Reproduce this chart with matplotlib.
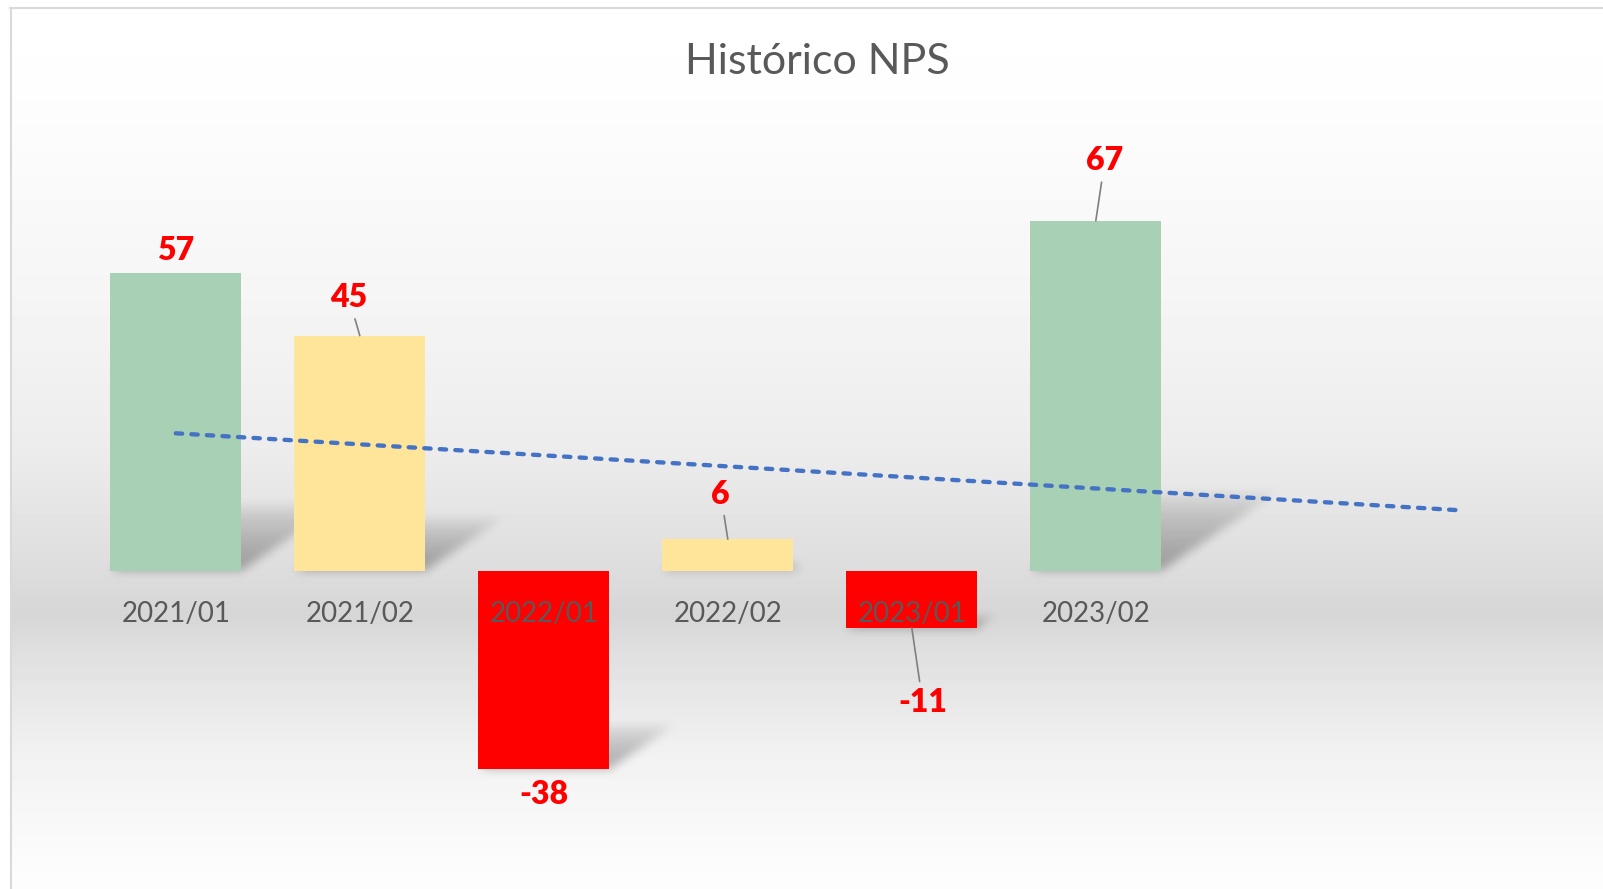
import numpy as np
import matplotlib
matplotlib.use("Agg")
import matplotlib.pyplot as plt
from matplotlib.lines import Line2D

# ── Data ──────────────────────────────────────────────────────────────────────
periods = ["2021/01", "2021/02", "2022/01", "2022/02", "2023/01", "2023/02"]
nps = [57, 45, -38, 6, -11, 67]
bar_colors = ["#A8D0B5", "#FFE599", "#FF0000", "#FFE599", "#FF0000", "#A8D0B5"]

# label offsets in pixels relative to the bar end
label_offsets = [(0, 22), (-11, 38), (0, -26), (-7, 45), (11, -75), (9, 60)]
has_leader = [False, True, False, True, True, True]

TITLE = "Histórico NPS"
TEXT = "#595959"
FORECAST = 2

W, H, DPI = 1603, 889, 100
X0, X1 = -0.5, 7.5
Y0, Y1 = -60, 80

# ── Figure & background ──────────────────────────────────────────────────────
fig = plt.figure(figsize=(W / DPI, H / DPI), dpi=DPI, facecolor="white")

bg = fig.add_axes([11 / W, 0, 1 - 11 / W, (H - 9) / H])
rows = np.arange(9, H)
stops_y = [9, 100, 300, 450, 555, 615, 655, 757, 857, 889]
stops_v = [255, 253, 245, 236, 223, 214, 224, 242, 251, 253]
shade = np.interp(rows, stops_y, stops_v) / 255
bg.imshow(np.repeat(shade[:, None], 16, axis=1), cmap="gray", vmin=0, vmax=1,
          aspect="auto", extent=(0, 1, 0, 1), interpolation="nearest")
bg.axis("off")

fig.add_artist(Line2D([10 / W, 1], [1 - 8 / H, 1 - 8 / H], color="#D9D9D9", lw=1.5))
fig.add_artist(Line2D([10.5 / W, 10.5 / W], [0, 1 - 8 / H], color="#D9D9D9", lw=1.5))

fig.text(817 / W, 1 - 62 / H, TITLE, ha="center", va="center", fontsize=31,
         color=TEXT, family="Lato")

# ── Plot area ─────────────────────────────────────────────────────────────────
left_px, right_px = 83.8, 1555.8
top_px, bot_px = 152.9, 883.7
ax = fig.add_axes([left_px / W, (H - bot_px) / H, (right_px - left_px) / W,
                   (bot_px - top_px) / H])
ax.set_xlim(X0, X1)
ax.set_ylim(Y0, Y1)
ax.axis("off")
ax.patch.set_alpha(0)

x = np.arange(len(nps))
width = 0.71

# perspective shadows (skewed, faded, blurred)
nx, ny = int(right_px - left_px), int(bot_px - top_px)
xs = X0 + (np.arange(nx) + 0.5) / nx * (X1 - X0)
ys = Y0 + (np.arange(ny) + 0.5) / ny * (Y1 - Y0)
XX, YY = np.meshgrid(xs, ys)
alpha = np.zeros_like(XX)
ratio = (ny / (Y1 - Y0)) / (nx / (X1 - X0))
for xi, v in zip(x, nps):
    h = abs(v)
    anchor = min(0, v)
    dy = 0.23 * h
    dx = 0.34 * h * ratio
    s = (YY - anchor) / dy
    inside = (s >= 0) & (s <= 1) & (XX >= xi - width / 2 + s * dx) & (XX <= xi + width / 2 + s * dx)
    a = np.where(inside, 0.3 * (1 - s) ** 0.6, 0)
    alpha = np.maximum(alpha, a)


def box_blur(img, r, axis):
    pad = [(0, 0), (0, 0)]
    pad[axis] = (r + 1, r)
    c = np.cumsum(np.pad(img, pad, mode="edge"), axis=axis)
    if axis == 0:
        return (c[2 * r + 1:] - c[:-2 * r - 1]) / (2 * r + 1)
    return (c[:, 2 * r + 1:] - c[:, :-2 * r - 1]) / (2 * r + 1)


for _ in range(3):
    alpha = box_blur(alpha, 4, 0)
    alpha = box_blur(alpha, 4, 1)

shadow = np.zeros((ny, nx, 4))
shadow[..., 3] = np.clip(alpha, 0, 1)
ax.imshow(shadow, extent=(X0, X1, Y0, Y1), origin="lower", aspect="auto",
          zorder=1, interpolation="bilinear")

ax.bar(x, nps, width=width, color=bar_colors, zorder=2)

# linear trendline, forecast forward
slope, icept = np.polyfit(x, nps, 1)
tx = np.array([0, len(nps) - 1 + FORECAST])
ax.plot(tx, slope * tx + icept, color="#4472C4", lw=3.1, zorder=3,
        dashes=(4.6 / 3.1, 6.6 / 3.1), dash_capstyle="round")

# category labels over the zero line
for xi, lab in zip(x, periods):
    ax.annotate(lab, (xi, 0), xytext=(0, -43), textcoords="offset pixels",
                ha="center", va="center", fontsize=20, color=TEXT,
                family="Lato", zorder=5)

# data labels
for xi, v, (ox, oy), lead in zip(x, nps, label_offsets, has_leader):
    ax.annotate(f"{v}", (xi, v), xytext=(ox, oy), textcoords="offset pixels",
                ha="center", va="center", fontsize=23, fontweight="heavy",
                color="#FF0000", family="Lato", zorder=6,
                arrowprops=dict(arrowstyle="-", color="#7F7F7F", lw=1.2,
                                shrinkA=3, shrinkB=0) if lead else None)

fig.savefig("out.png", dpi=DPI, facecolor="white")
